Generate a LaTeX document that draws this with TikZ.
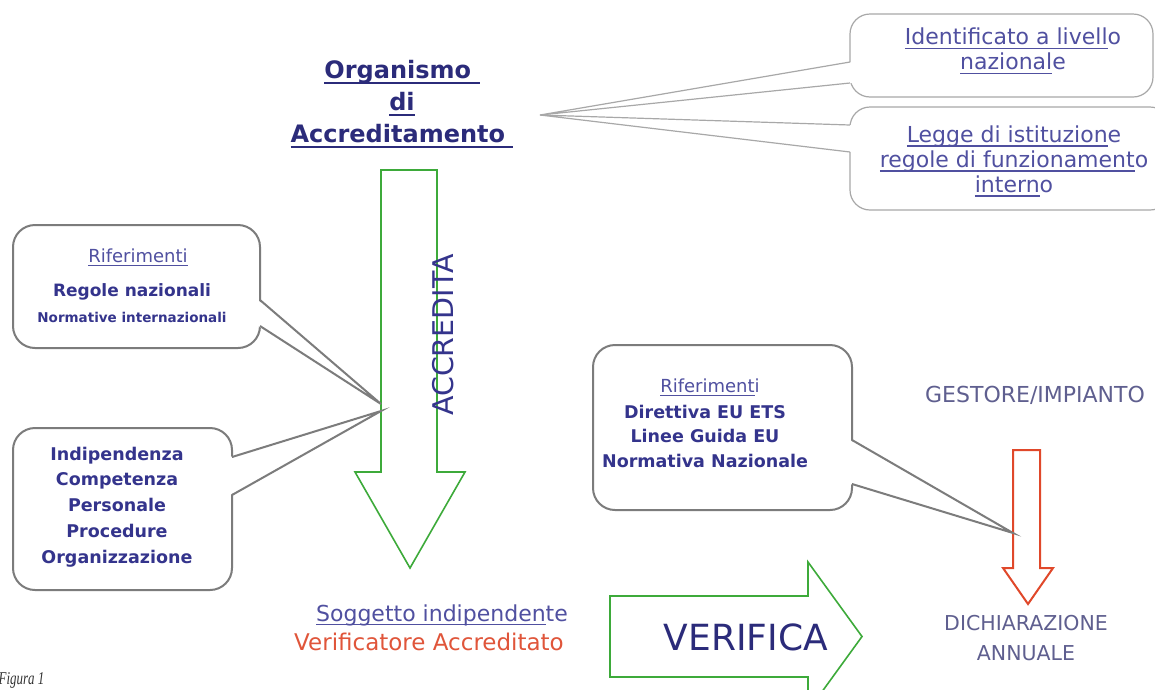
\documentclass[tikz,border=0pt]{standalone}
\usepackage{fontspec}
\setmainfont{DejaVu Sans}
\newfontfamily\figfont[FakeStretch=0.72]{Liberation Serif}
\newsavebox\ulbox
\newcommand{\uln}[2][0.055em]{\leavevmode\sbox\ulbox{#2}\rlap{\rule[-0.2em]{\wd\ulbox}{#1}}\usebox\ulbox}
\definecolor{navy}{HTML}{2B2B7A}
\definecolor{tblue}{HTML}{34348C}
\definecolor{lblue}{HTML}{5050A0}
\definecolor{gblue}{HTML}{5F5F8F}
\definecolor{agreen}{HTML}{3DAA3A}
\definecolor{ared}{HTML}{E0482A}
\definecolor{tred}{HTML}{E0553A}
\definecolor{cgray}{HTML}{7C7C7C}
\definecolor{lgray}{HTML}{A8A8A8}
\begin{document}
\begin{tikzpicture}[x=1pt,y=-1pt,
  cbox/.style={draw=cgray, line width=2pt, fill=white, rounded corners=22pt, inner sep=0pt},
  lbox/.style={draw=lgray, line width=1.2pt, fill=white, rounded corners=20pt, inner sep=0pt},
  cline/.style={draw=cgray, line width=2pt, line join=miter},
  lline/.style={draw=lgray, line width=1.2pt},
  txt/.style={inner sep=0pt, align=center},
  title/.style={txt, text=navy, font=\bfseries\fontsize{24}{32}\selectfont},
  thin/.style={txt, text=lblue, font=\fontsize{22}{25}\selectfont},
  bold/.style={txt, text=tblue, font=\bfseries\fontsize{17.5}{25.8}\selectfont},
  garrow/.style={draw=agreen, line width=1.6pt, fill=white, line join=miter},
  rarrow/.style={draw=ared, line width=2pt, fill=white, line join=miter}
]
\useasboundingbox (0,0) rectangle (1155,689);
\clip (0,0) rectangle (1155,689);
\fill[white] (0,0) rectangle (1155,689);

% ---------- title
\node[title] (org) at (402,104) {\uln[0.075em]{Organismo\ }\\\uln[0.075em]{di}\\\uln[0.075em]{Accreditamento\ }};

% ---------- green down arrow (ACCREDITA)
\draw[garrow] (381,170) -- (437,170) -- (437,472) -- (465,472) -- (410,568) -- (355,472) -- (381,472) -- cycle;
\node[txt, rotate=90, text=tblue, font=\fontsize{28.5}{30}\selectfont] (acc) at (443,335) {ACCREDITA};

% ---------- top right callouts
\coordinate (pt) at (540,115);
\node[lbox, minimum width=303pt, minimum height=83pt] (ca) at (1001.5,55.5) {};
\node[lbox, minimum width=320pt, minimum height=103pt] (cb) at (1010,158.5) {};
\coordinate (ca1) at (850,62);  \coordinate (ca2) at (850,83);
\coordinate (cb1) at (850,125); \coordinate (cb2) at (850,152);
\fill[white] ([xshift=2pt]ca1) -- (pt) -- ([xshift=2pt]ca2) -- cycle;
\fill[white] ([xshift=2pt]cb1) -- (pt) -- ([xshift=2pt]cb2) -- cycle;
\draw[lline] (ca1) -- (pt) -- (ca2);
\draw[lline] (cb1) -- (pt) -- (cb2);
\node[thin] (ta) at (1013,51) {\uln{Identificato a livell}o\\\uln{nazional}e};
\node[thin] (tb) at (1014,161) {\uln{Legge di istituzion}e\\\uln{regole di funzionament}o\\\uln{intern}o};

% ---------- left callout 1
\coordinate (p1) at (381,404);
\node[cbox, minimum width=247pt, minimum height=123pt] (c1) at (136.5,286.5) {};
\coordinate (c1a) at (260,300); \coordinate (c1b) at (260,326);
\fill[white] ([xshift=-2pt]c1a) -- (p1) -- ([xshift=-2pt]c1b) -- cycle;
\draw[cline] (c1a) -- (p1) -- (c1b);
\node[txt, text=lblue, font=\fontsize{18}{20}\selectfont] (r1) at (138,257) {\uln{Riferimenti}};
\node[txt, text=tblue, font=\bfseries\fontsize{17}{20}\selectfont] (r2) at (132,292) {Regole nazionali};
\node[txt, text=tblue, font=\bfseries\fontsize{13.5}{16}\selectfont] (r3) at (132,317) {Normative internazionali};

% ---------- left callout 2
\coordinate (p2) at (381,411);
\node[cbox, minimum width=219pt, minimum height=162pt] (c2) at (122.5,509) {};
\coordinate (c2a) at (232,457); \coordinate (c2b) at (232,495);
\fill[white] ([xshift=-2pt]c2a) -- (p2) -- ([xshift=-2pt]c2b) -- cycle;
\draw[cline] (c2a) -- (p2) -- (c2b);
\node[bold] (req) at (117,507) {Indipendenza\\Competenza\\Personale\\Procedure\\Organizzazione};

% ---------- red arrow (GESTORE -> DICHIARAZIONE)
\node[txt, text=gblue, font=\fontsize{22}{25}\selectfont] (gest) at (1035,395) {GESTORE/IMPIANTO};
\draw[rarrow] (1013,450) -- (1040,450) -- (1040,568) -- (1053,568) -- (1028,604) -- (1003,568) -- (1013,568) -- cycle;
\node[txt, text=gblue, font=\fontsize{20.5}{30}\selectfont] (dich) at (1026,638) {DICHIARAZIONE\\ANNUALE};

% ---------- callout 3
\coordinate (p3) at (1013,533);
\node[cbox, minimum width=259pt, minimum height=165pt] (c3) at (722.5,427.5) {};
\coordinate (c3a) at (852,440); \coordinate (c3b) at (852,484);
\fill[white] ([xshift=-2pt]c3a) -- (p3) -- ([xshift=-2pt]c3b) -- cycle;
\draw[cline] (c3a) -- (p3) -- (c3b);
\node[txt, text=lblue, font=\fontsize{18}{20}\selectfont] (r4) at (710,387) {\uln{Riferiment}i};
\node[txt, text=tblue, font=\bfseries\fontsize{17.5}{24.5}\selectfont] (r5) at (705,436) {Direttiva EU ETS\\Linee Guida EU\\Normativa Nazionale};

% ---------- bottom: verificatore and VERIFICA arrow
\node[txt, text=lblue, font=\fontsize{22}{24}\selectfont] (sog) at (442,615) {\uln{Soggetto indipenden}te};
\node[txt, text=tred, font=\fontsize{23}{25}\selectfont] (ver) at (429,642) {Verificatore Accreditato};
\draw[garrow] (610,596) -- (808,596) -- (808,562) -- (862,636.5) -- (808,711) -- (808,677) -- (610,677) -- cycle;
\node[txt, text=navy, font=\fontsize{36}{38}\selectfont] (verif) at (746,637) {VERIFICA};

% ---------- caption
\node[inner sep=0pt, anchor=west, text=black!80, font=\figfont\itshape\fontsize{18}{20}\selectfont] (fig) at (-1.5,680) {Figura 1};
\end{tikzpicture}
\end{document}
